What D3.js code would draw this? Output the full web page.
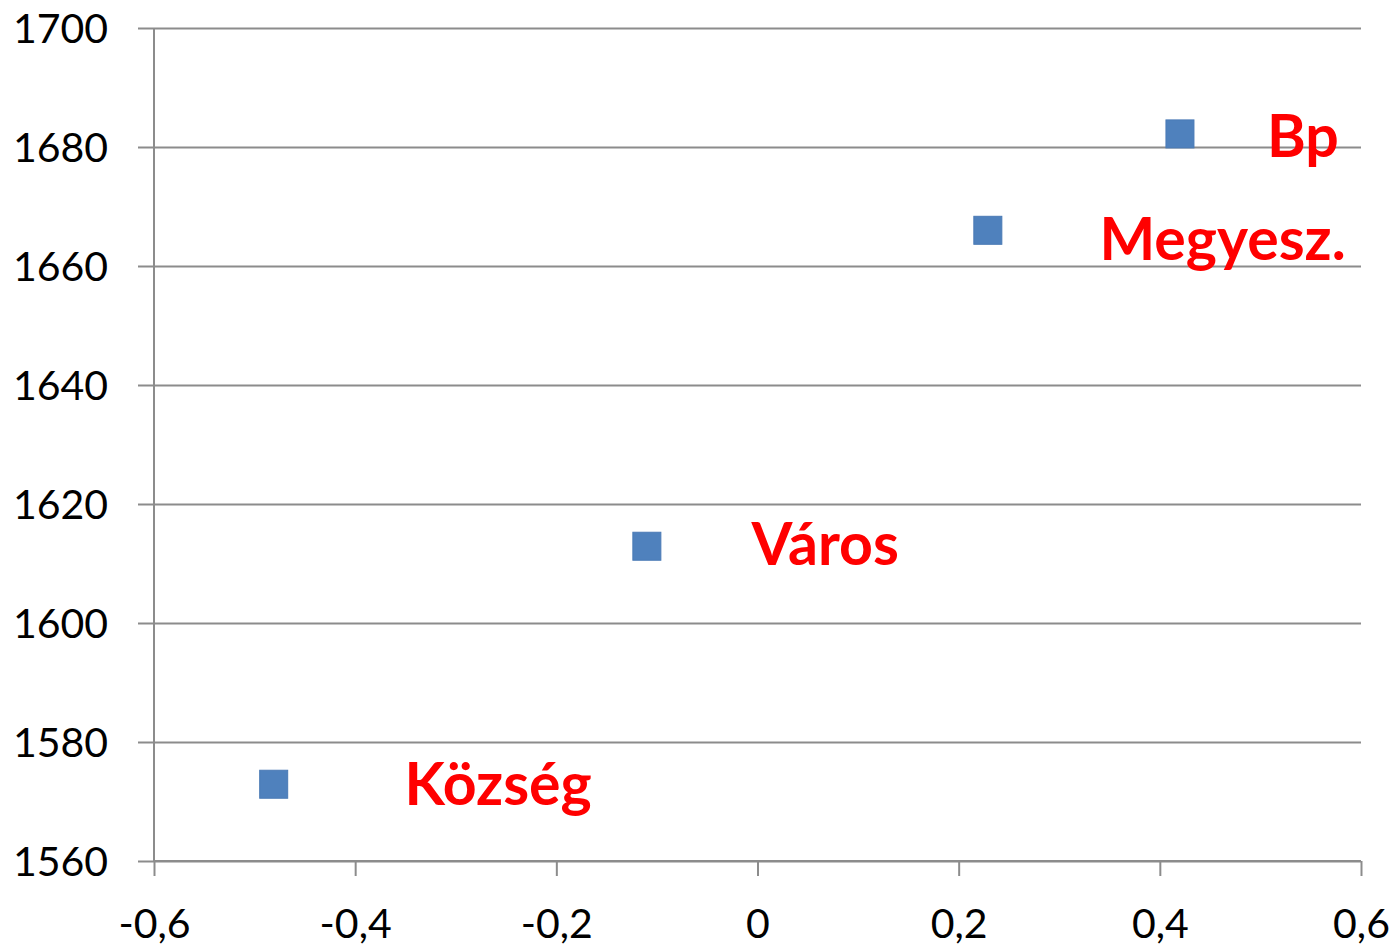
<!DOCTYPE html>
<html>
<head>
<meta charset="utf-8">
<script src="https://cdn.jsdelivr.net/npm/d3@7"></script>
<style>
  body { margin: 0; background: #fff; }
  svg { display: block; }
  .tick text { font-family: Lato, "Liberation Sans", sans-serif; font-size: 41px; fill: #000; }
  .lbl { font-family: Lato, "Liberation Sans", sans-serif; font-weight: bold; font-size: 59px; fill: #ff0000; }
</style>
</head>
<body>
<svg width="1396" height="946"></svg>
<script>
// points (x value, y value)
const names = ["Község", "Város", "Megyesz.", "Bp"];
const xVals = [-0.481, -0.110, 0.229, 0.420];
const yVals = [1572.9, 1612.9, 1666.0, 1682.2];
// where the red labels sit, in data units (start of text, baseline)
const labelX = [-0.351, -0.006, 0.340, 0.5066];
const labelY = [1569.4, 1609.7, 1661.0, 1678.3];

const xTicks = [-0.6, -0.4, -0.2, 0, 0.2, 0.4, 0.6];
const yTicks = [1560, 1580, 1600, 1620, 1640, 1660, 1680, 1700];

const svg = d3.select("svg");
const plotLeft = 154, plotRight = 1361, plotTop = 28, plotBottom = 861;

const x = d3.scaleLinear().domain([-0.6, 0.6]).range([plotLeft, plotRight]);
const y = d3.scaleLinear().domain([1560, 1700]).range([plotBottom, plotTop]);

const huFormat = d3.formatLocale({ decimal: ",", thousands: " ", grouping: [3], currency: ["", " Ft"], minus: "-" });
const fmtX = (d) => d === 0 ? "0" : huFormat.format(".1f")(d);

const gridColor = "#8c8c8c";

// horizontal gridlines + y axis
const yAxis = svg.append("g")
  .attr("transform", `translate(${plotLeft},0)`)
  .call(d3.axisLeft(y).tickValues(yTicks).tickFormat(d3.format("d")).tickSize(16).tickPadding(30));
yAxis.select(".domain").remove();
yAxis.selectAll(".tick line")
  .attr("x2", plotRight - plotLeft)
  .attr("x1", -16)
  .attr("stroke", gridColor)
  .attr("stroke-width", 2);
yAxis.selectAll(".tick text").attr("dy", "0.36em");

svg.append("line")
  .attr("x1", plotLeft).attr("x2", plotLeft)
  .attr("y1", plotTop).attr("y2", plotBottom)
  .attr("stroke", gridColor).attr("stroke-width", 2);

// x axis
const xAxis = svg.append("g")
  .attr("transform", `translate(0,${plotBottom})`)
  .call(d3.axisBottom(x).tickValues(xTicks).tickFormat(fmtX).tickSize(15).tickPadding(33));
xAxis.select(".domain")
  .attr("d", `M${plotLeft},0H${plotRight}`)
  .attr("stroke", gridColor).attr("stroke-width", 2);
xAxis.selectAll(".tick line").attr("stroke", gridColor).attr("stroke-width", 2);

const pts = names.map((n, i) => ({ name: n, x: xVals[i], y: yVals[i], lx: labelX[i], ly: labelY[i] }));

// markers
const size = 28;
svg.append("g").selectAll("rect")
  .data(pts)
  .enter()
  .append("rect")
  .attr("x", (d) => x(d.x) - size / 2)
  .attr("y", (d) => y(d.y) - size / 2)
  .attr("width", size)
  .attr("height", size)
  .attr("fill", "#4f81bd")
  .attr("stroke", "#4a7ab5")
  .attr("stroke-width", 1);

// labels
svg.append("g").selectAll("text")
  .data(pts)
  .enter()
  .append("text")
  .attr("class", "lbl")
  .attr("x", (d) => x(d.lx))
  .attr("y", (d) => y(d.ly))
  .text((d) => d.name);
</script>
</body>
</html>
